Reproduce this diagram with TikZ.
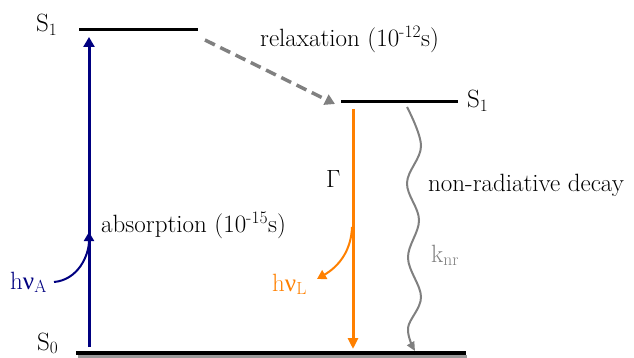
\documentclass[tikz,border=0pt]{standalone}
\usepackage{fontspec}
\newfontfamily\greekfont{Liberation Serif}
\usetikzlibrary{arrows.meta}
\definecolor{navyc}{RGB}{0,0,128}
\definecolor{orangec}{RGB}{255,128,0}
\definecolor{greyc}{RGB}{128,128,128}
\newcommand{\nuch}{{\greekfont ν}}
\begin{document}
\begin{tikzpicture}[x=1pt,y=-1pt,
  lbl/.style={inner sep=0pt, anchor=base west, font=\fontsize{25}{28}\selectfont},
  level/.style={line width=3pt, black},
  absarrow/.style={line width=3pt, navyc, -{Triangle[length=10pt,width=11pt]}},
  emarrow/.style={line width=3pt, orangec, -{Triangle[length=11pt,width=10pt]}},
  relaxarrow/.style={line width=3.5pt, greyc, dash pattern=on 11pt off 6pt, -{Triangle[length=10pt,width=11pt]}},
  wavearrow/.style={line width=2pt, greyc, -{Triangle[length=9pt,width=8pt]}},
  smallcurve/.style={line width=2pt, -{Triangle[length=9pt,width=10pt]}}]
\useasboundingbox (0,0) rectangle (634,358);
% coordinates
\coordinate (s1aL) at (79,30);
\coordinate (s1aR) at (198,30);
\coordinate (s1bL) at (341,102);
\coordinate (s1bR) at (458,102);
\coordinate (s0L) at (76,353);
\coordinate (s0R) at (466,353);
\coordinate (absS) at (89,347);
\coordinate (absE) at (89,37);
\coordinate (relS) at (205,40);
\coordinate (relE) at (335,104);
\coordinate (emS) at (353,109);
\coordinate (emE) at (353,349);
\coordinate (hvaS) at (54,282);
\coordinate (hvaE) at (89,232);
\coordinate (hvlS) at (352,227);
\coordinate (hvlE) at (317,279);
% levels
\draw[line width=3pt, greyc!80] (78,356.5) -- (467,356.5);
\draw[level, line width=3.5pt] (s0L) -- (s0R);
\draw[level] (s1aL) -- (s1aR);
\draw[level] (s1bL) -- (s1bR);
% labels
\node[lbl] (s1a) at (36,32) {S$_1$};
\node[lbl] (s1b) at (467,108) {S$_1$};
\node[lbl] (s0) at (37,350) {S$_0$};
\node[lbl] (relax) at (260,47) {relaxation (10\textsuperscript{-12}s)};
\node[lbl] (absorb) at (101,233) {absorption (10\textsuperscript{-15}s)};
\node[lbl] (nonrad) at (428,192) {\addfontfeature{LetterSpace=9}non-radiative decay};
\node[lbl] (gam) at (326,188) {$\Gamma$};
\node[lbl, text=greyc] (knr) at (431,262) {k$_{\mathrm{nr}}$};
\node[lbl, text=navyc] (hva) at (10,289) {h\nuch$_{\mathrm{A}}$};
\node[lbl, text=orangec] (hvl) at (272,291) {h\nuch$_{\mathrm{L}}$};
% arrows
\draw[absarrow] (absS) -- (absE);
\draw[relaxarrow] (relS) -- (relE);
\draw[emarrow] (emS) -- (emE);
\draw[smallcurve, navyc] (hvaS) to[out=5,in=-90] (hvaE);
\draw[smallcurve, orangec] (hvlS) to[out=-92,in=30] (hvlE);
\draw[wavearrow] plot[smooth, tension=0.6] coordinates {(407,107) (421,146) (407,183) (419,220) (408,258) (421,297) (408,328) (415,351)};
\end{tikzpicture}
\end{document}
